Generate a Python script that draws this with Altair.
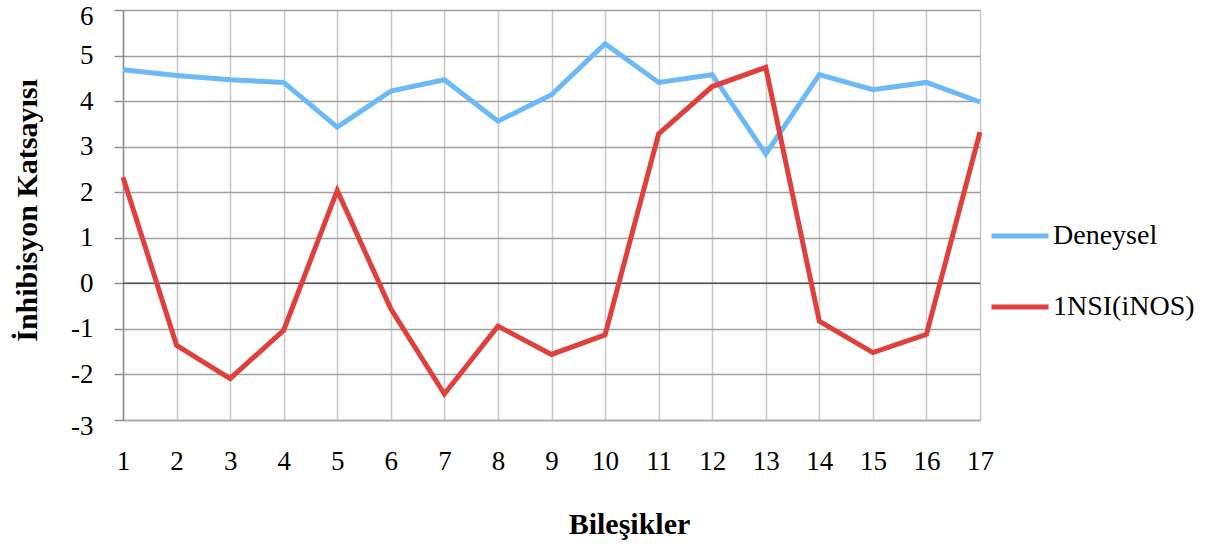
import altair as alt
import pandas as pd

compounds = list(range(1, 18))
deneysel = [4.69, 4.56, 4.47, 4.41, 3.43, 4.22, 4.47, 3.56, 4.14, 5.26,
            4.41, 4.58, 2.84, 4.58, 4.25, 4.41, 3.98]
nsi_inos = [2.33, -1.36, -2.09, -1.03, 2.04, -0.56, -2.43, -0.94, -1.56, -1.13,
            3.28, 4.32, 4.74, -0.83, -1.52, -1.12, 3.32]
series_names = ["Deneysel", "1NSI(iNOS)"]
series_colors = ["#6BB9F7", "#E0403C"]
y_ticks = list(range(-3, 7))
zero_line = [0]

rows = []
for k, vals in enumerate([deneysel, nsi_inos]):
    for c, v in zip(compounds, vals):
        rows.append({"Bileşik": c, "Seri": series_names[k], "Değer": v, "sira": k})
df = pd.DataFrame(rows)

FONT = "Liberation Serif"

x_enc = alt.X(
    "Bileşik:Q",
    scale=alt.Scale(domain=[1, 17], nice=False, zero=False),
    axis=alt.Axis(
        values=compounds, title="Bileşikler", grid=True, gridColor="#c8c8c8",
        gridWidth=1.5, ticks=False, labelPadding=28, labelFontSize=27,
        labelFont=FONT, labelColor="#000", domainColor="#aaaaaa", domainWidth=1.5,
        titleFont=FONT, titleFontSize=30, titleFontWeight="bold", titleColor="#000",
        titleX=506, titleY=104, titleBaseline="middle", titleAlign="center",
        labelFlush=False, labelOverlap=False, labelExpr="'' + datum.value",
    ),
)
y_enc = alt.Y(
    "Değer:Q",
    scale=alt.Scale(domain=[-3, 6], nice=False, zero=False),
    axis=alt.Axis(
        values=y_ticks, title="İnhibisyon Katsayısı", grid=True, gridColor="#a0a0a0",
        gridWidth=1.5, ticks=True, tickSize=9, tickColor="#909090", tickWidth=1.5,
        labelPadding=21, labelFontSize=27, labelFont=FONT, labelColor="#000",
        domainColor="#909090", domainWidth=1.5,
        titleFont=FONT, titleFontSize=30, titleFontWeight="bold", titleColor="#000",
        titleX=-96, titleY=200, titleAngle=270, titleBaseline="middle", titleAlign="center",
        labelFlush=False, labelOverlap=False, labelExpr="'' + datum.value",
        labelOffset={"condition": {"test": "datum.value == 6 || datum.value == -3", "value": 6},
                     "value": 0},
    ),
)

lines = alt.Chart(df).mark_line(strokeWidth=5).encode(
    x=x_enc,
    y=y_enc,
    color=alt.Color(
        "Seri:N",
        scale=alt.Scale(domain=series_names, range=series_colors),
        legend=alt.Legend(
            title=None, orient="none", legendX=866, legendY=195,
            symbolType="stroke", symbolSize=3249, symbolStrokeWidth=5,
            labelFont=FONT, labelFontSize=28, labelColor="#000",
            labelOffset=2, rowPadding=26, padding=0,
        ),
    ),
    order=alt.Order("sira:Q"),
)

zero = alt.Chart(pd.DataFrame({"z": zero_line})).mark_rule(
    color="#555555", strokeWidth=1.5
).encode(y=alt.Y("z:Q"))

chart = alt.layer(zero, lines).properties(
    width=857, height=410,
    autosize=alt.AutoSizeParams(type="none"),
    padding={"left": 123, "top": 10, "right": 245, "bottom": 127},
).configure_view(strokeWidth=0).configure(background="white")

chart.save("out.html", embed_options={"renderer": "svg", "actions": False})
